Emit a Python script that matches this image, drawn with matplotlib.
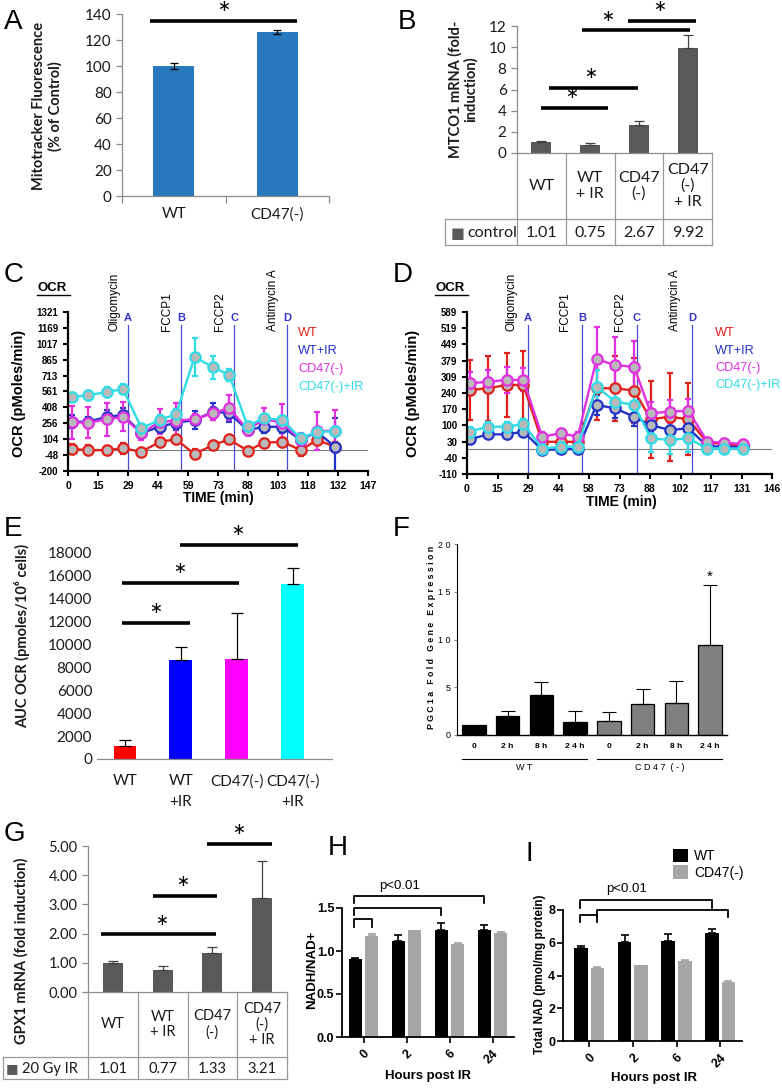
import numpy as np
import matplotlib
matplotlib.use("Agg")
import matplotlib.pyplot as plt
from matplotlib.transforms import blended_transform_factory

W, H = 782, 1088
plt.rcParams['font.family'] = ['Liberation Sans', 'DejaVu Sans']
XL = ['Lato', 'DejaVu Sans']          # stand-in for Calibri (Excel panels)

# ---------------- data ----------------
# A  Mitotracker
a_groups = ['WT', 'CD47(-)']
a_mean = [100, 126.5]
a_err = [2.2, 1.5]
a_sig = [(-0.23, 1.19, 135, 0.48)]          # x1, x2, y, star x

# B  MTCO1 mRNA
b_groups = ['WT', 'WT\n+ IR', 'CD47\n(-)', 'CD47\n(-)\n+ IR']
b_mean = [1.01, 0.75, 2.67, 9.92]
b_err = [0.15, 0.22, 0.38, 1.25]
b_sig = [(0.0, 1.37, 4.25, 0.63), (0.16, 1.98, 6.15, 1.02),
         (0.84, 3.04, 11.6, 1.35), (1.78, 3.18, 12.5, 2.43)]

# C / D  Seahorse OCR traces
ocr_labels = ['WT', 'WT+IR', 'CD47(-)', 'CD47(-)+IR']
ocr_colors = ['#e0221c', '#2233c8', '#e030e0', '#30dce6']
drugs = ['Oligomycin', 'FCCP1', 'FCCP2', 'Antimycin A']
ports = ['A', 'B', 'C', 'D']

c_time = [2, 10, 19, 27, 36, 45, 53, 62, 71, 79, 88, 96, 105, 114, 122, 131]
c_inject = [29.4, 55.4, 81.4, 107.4]
c_yticks = [-200, -48, 104, 256, 408, 561, 713, 865, 1017, 1169, 1321]
c_xticks = [0, 15, 29, 44, 59, 73, 88, 103, 118, 132, 147]
c_wt = [10, 0, 0, 16, -16, 80, 102, -38, 48, 102, -6, 70, 80, 0, 96, 32]
c_wt_err = [50, 45, 35, 50, 40, 35, 40, 50, 35, 40, 35, 35, 40, 55, 50, 45]
c_wtir = [271, 271, 319, 335, 163, 223, 262, 287, 367, 354, 191, 223, 223, 96, 175, 29]
c_wtir_err = [60, 50, 60, 70, 40, 60, 70, 90, 80, 90, 50, 60, 60, 50, 40, 280]
c_cd = [265, 262, 294, 319, 160, 271, 281, 297, 351, 405, 191, 297, 262, 96, 182, 185]
c_cd_err = [160, 150, 155, 140, 60, 120, 170, 50, 60, 120, 50, 110, 180, 70, 180, 200]
c_cdir = [507, 526, 555, 584, 210, 287, 345, 890, 794, 718, 230, 306, 287, 115, 172, 182]
c_cdir_err = [40, 40, 45, 45, 40, 50, 50, 180, 110, 60, 40, 40, 40, 40, 40, 40]

d_time = [1.5, 10, 19, 27, 36, 45, 53, 62, 71, 80, 88, 97, 106, 115, 123, 132]
d_inject = [29.2, 55.0, 81.3, 107.7]
d_yticks = [-110, -40, 30, 100, 170, 240, 309, 379, 449, 519, 589]
d_xticks = [0, 15, 29, 44, 58, 73, 88, 102, 117, 131, 146]
d_wt = [252, 260, 274, 274, 29, 29, 29, 260, 260, 250, 126, 137, 126, 25, 20, 10]
d_wt_err = [130, 140, 140, 145, 10, 10, 10, 135, 140, 140, 165, 190, 155, 15, 15, 15]
d_wtir = [40, 61, 61, 73, -7, -3, -3, 188, 173, 137, 101, 80, 87, 10, 8, 5]
d_wtir_err = [15, 15, 15, 15, 10, 10, 10, 45, 40, 40, 30, 30, 30, 15, 15, 25]
d_cd = [281, 288, 296, 296, 51, 66, 51, 385, 360, 352, 152, 159, 163, 30, 25, 20]
d_cd_err = [50, 50, 55, 50, 20, 20, 20, 140, 120, 110, 50, 50, 50, 15, 15, 15]
d_cdir = [73, 94, 94, 106, 0, 8, 8, 267, 202, 188, 44, 37, 44, 0, 0, 0]
d_cdir_err = [20, 20, 20, 20, 10, 10, 10, 72, 40, 40, 60, 60, 60, 15, 15, 15]

# E  AUC OCR
e_groups = ['WT', 'WT\n+IR', 'CD47(-)', 'CD47(-)\n+IR']
e_mean = [1100, 8650, 8700, 15250]
e_err = [580, 1120, 4080, 1420]
e_colors = ['#ff0000', '#0000ff', '#ff00ff', '#00ffff']
e_sig = [(-0.06, 1.17, 11900, 0.54), (-0.06, 2.04, 15400, 0.98), (0.99, 3.1, 18700, 2.02)]

# F  PGC1a
f_ticks = ['0', '2 h', '8 h', '2 4 h'] * 2
f_groups = ['W T', 'C D 4 7  ( - )']
f_mean = [1.0, 2.0, 4.2, 1.4, 1.45, 3.2, 3.3, 9.4]
f_err = [0, 0.5, 1.3, 1.1, 0.95, 1.6, 2.4, 6.3]
f_colors = ['black', '#808080']

# G  GPX1 mRNA
g_groups = ['WT', 'WT\n+ IR', 'CD47\n(-)', 'CD47\n(-)\n+ IR']
g_mean = [1.01, 0.77, 1.33, 3.21]
g_err = [0.06, 0.13, 0.22, 1.27]
g_sig = [(-0.24, 2.08, 1.98, 0.98), (0.8, 2.1, 3.29, 1.4), (1.9, 3.2, 5.07, 2.52)]

# H / I  NAD
hours = ['0', '2', '6', '24']
nad_labels = ['WT', 'CD47(-)']
nad_colors = ['black', '#a6a6a6']
h_wt = [0.905, 1.115, 1.24, 1.245]
h_wt_err = [0.01, 0.075, 0.085, 0.06]
h_cd = [1.18, 1.245, 1.085, 1.215]
h_cd_err = [0.02, 0, 0.005, 0.005]
i_wt = [5.7, 6.03, 6.12, 6.57]
i_wt_err = [0.1, 0.42, 0.4, 0.3]
i_cd = [4.45, 4.63, 4.9, 3.62]
i_cd_err = [0.07, 0, 0.03, 0.03]

fig = plt.figure(figsize=(W / 100, H / 100), dpi=100)


def add_ax(x0, y0, x1, y1):
    return fig.add_axes([x0 / W, 1 - y1 / H, (x1 - x0) / W, (y1 - y0) / H])


def fy(y):
    return 1 - y / H


def ftext(x, y, s, **kw):
    return fig.text(x / W, fy(y), s, **kw)


def excel_style(ax, left=True):
    for s in ('top', 'right'):
        ax.spines[s].set_visible(False)
    for s in ('left', 'bottom'):
        ax.spines[s].set_color('#8c8c8c')
        ax.spines[s].set_linewidth(0.9)
    ax.spines['left'].set_visible(left)
    ax.tick_params(colors='#8c8c8c', labelcolor='#1a1a1a', length=4, width=0.9)


def stars(ax, bars, dy=4):
    for x1, x2, y, xs in bars:
        ax.plot([x1, x2], [y, y], color='black', lw=2.6, clip_on=False, solid_capstyle='butt')
        ax.annotate('*', (xs, y), xytext=(0, dy), textcoords='offset points',
                    ha='center', va='center', fontsize=22, family=XL, annotation_clip=False)


def excel_table(ax, cols, row_label, vals, lab_left, y_top, y_mid, y_bot, fs, sq_dx, txt_dx):
    # data table drawn under an Excel bar chart; x in data units, y in figure pixels
    tr = blended_transform_factory(ax.transData, fig.transFigure)
    edges = np.arange(len(cols) + 1) - 0.5
    kw = dict(color='#9a9a9a', lw=0.9, transform=tr, clip_on=False)
    for e in edges:
        ax.plot([e, e], [fy(y_top), fy(y_bot)], **kw)
    ax.plot([lab_left, lab_left], [fy(y_mid), fy(y_bot)], **kw)
    ax.plot([lab_left, edges[-1]], [fy(y_mid)] * 2, **kw)
    ax.plot([lab_left, edges[-1]], [fy(y_bot)] * 2, **kw)
    tk = dict(transform=tr, ha='center', va='center', fontsize=fs, family=XL, color='#1a1a1a')
    for i, (c, v) in enumerate(zip(cols, vals)):
        ax.text(i, fy((y_top + y_mid) / 2), c, linespacing=1.15, **tk)
        ax.text(i, fy((y_mid + y_bot) / 2 + 1), f'{v:.2f}', **tk)
    ym = fy((y_mid + y_bot) / 2 + 1)
    ax.annotate('\u25a0', (lab_left, ym), xycoords=tr, xytext=(sq_dx, 0), textcoords='offset points',
                ha='left', va='center', fontsize=fs - 1, color='#595959', family=['DejaVu Sans'])
    ax.annotate(row_label, (lab_left, ym), xycoords=tr, xytext=(txt_dx, 0), textcoords='offset points',
                ha='left', va='center', fontsize=fs, color='#1a1a1a', family=XL)


# ---------------- A ----------------
axA = add_ax(122, 14, 329, 196)
xa = np.arange(len(a_groups))
axA.bar(xa, a_mean, width=0.4, color='#2878bd', yerr=a_err, capsize=3,
        error_kw=dict(elinewidth=0.9, capthick=0.9, ecolor='black'))
axA.set_xlim(-0.5, len(a_groups) - 0.5)
axA.set_ylim(0, 140)
excel_style(axA)
axA.set_yticks(range(0, 141, 20), [str(v) for v in range(0, 141, 20)], fontsize=11, family=XL)
axA.set_xticks(np.arange(-0.5, len(a_groups), 1))
axA.tick_params(axis='x', which='major', labelbottom=False, length=5)
axA.set_xticks(xa, a_groups, minor=True, fontsize=11, family=XL)
axA.tick_params(axis='x', which='minor', length=0, pad=8, labelcolor='#1a1a1a')
stars(axA, a_sig)
ftext(47, 106, 'Mitotracker Fluorescence\n(% of Control)', rotation=90, ha='center', va='center',
      fontsize=10.5, fontweight='bold', family=XL, color='#1a1a1a', linespacing=1.15)
ftext(4, 9, 'A', fontsize=20, va='top')

# ---------------- B ----------------
axB = add_ax(517, 26, 712, 153)
xb = np.arange(len(b_groups))
axB.bar(xb, b_mean, width=0.41, color='#595959', yerr=[np.zeros(len(b_err)), b_err], capsize=3.5,
        error_kw=dict(elinewidth=0.9, capthick=0.9, ecolor='#404040'))
axB.set_xlim(-0.5, len(b_groups) - 0.5)
axB.set_ylim(0, 12)
excel_style(axB)
axB.set_xticks([])
axB.set_yticks(range(0, 13, 2), [str(v) for v in range(0, 13, 2)], fontsize=11, family=XL)
excel_table(axB, b_groups, 'control', b_mean, -1.977, 153, 219, 245, 11.5, 4, 16)
stars(axB, b_sig)
ftext(463, 89, 'MTCO1 mRNA (fold-\ninduction)', rotation=90, ha='center', va='center',
      fontsize=10.5, fontweight='bold', family=XL, color='#1a1a1a', linespacing=1.15)
ftext(398, 9, 'B', fontsize=20, va='top')


# ---------------- C / D ----------------
def seahorse(ax, t, series, inject, yticks, xticks, xmax, name_off):
    for (vals, errs), col, lab in zip(series, ocr_colors, ocr_labels):
        ax.errorbar(t, vals, yerr=errs, color=col, lw=1.7, marker='o', ms=7.5, mfc='#b9b9b9',
                    mec=col, mew=1.6, capsize=2.5, elinewidth=1.6, capthick=1.6, label=lab)
    ax.axhline(0, color='#7a7a7a', lw=0.8, zorder=0)
    ax.set_ylim(yticks[0], yticks[-1])
    ax.set_xlim(0, xmax)
    trans = ax.get_xaxis_transform()
    for x, drug, port in zip(inject, drugs, ports):
        ax.plot([x, x], [0, 0.92], color='#4a4ad0', lw=0.9, transform=trans, zorder=0, clip_on=False)
        ax.text(x, 0.962, port, transform=trans, color='#3434cc', fontweight='bold', fontsize=8,
                ha='center', va='center')
        ax.annotate(drug, (x, 0.88), xycoords=trans, xytext=(-name_off, 0), textcoords='offset points',
                    rotation=90, ha='center', va='bottom', fontsize=8.5)
    for s in ('top', 'right'):
        ax.spines[s].set_visible(False)
    for s in ('left', 'bottom'):
        ax.spines[s].set_linewidth(1.6)
    ax.tick_params(length=3.5, width=1.5)
    ax.set_yticks(yticks, [str(v) for v in yticks], fontsize=7, fontweight='bold')
    ax.set_xticks(np.linspace(0, xmax, len(xticks)), [str(v) for v in xticks], fontsize=7.5,
                  fontweight='bold')


axC = add_ax(68, 312, 368, 471)
seahorse(axC, c_time, [(c_wt, c_wt_err), (c_wtir, c_wtir_err), (c_cd, c_cd_err), (c_cdir, c_cdir_err)],
         c_inject, c_yticks, c_xticks, 147, 10)
axD = add_ax(467, 312, 772, 474)
seahorse(axD, d_time, [(d_wt, d_wt_err), (d_wtir, d_wtir_err), (d_cd, d_cd_err), (d_cdir, d_cdir_err)],
         d_inject, d_yticks, d_xticks, 146, 12)

for x0, ylab_x, xl_x, xl_y, leg_x, leg_dy in [(37, 19, 218, 498, 298, 18), (435, 413, 621, 502, 715, 17.5)]:
    ftext(x0, 288, 'OCR', fontsize=9.5, fontweight='bold', va='center')
    fig.add_artist(plt.Line2D([x0 / W, (x0 + 33) / W], [fy(295)] * 2, color='black', lw=1))
    ftext(ylab_x, 393, 'OCR (pMoles/min)', rotation=90, ha='center', va='center', fontsize=10.5,
          fontweight='bold')
    ftext(xl_x, xl_y, 'TIME (min)', ha='center', va='center', fontsize=10, fontweight='bold')
    for i, (lab, col) in enumerate(zip(ocr_labels, ocr_colors)):
        ftext(leg_x, 333 + i * leg_dy, lab, color=col, fontsize=9.2, va='center')
ftext(4, 262, 'C', fontsize=20, va='top')
ftext(393, 262, 'D', fontsize=20, va='top')

# ---------------- E ----------------
axE = add_ax(97, 553, 332, 759)
xe = np.arange(len(e_groups))
axE.bar(xe, e_mean, width=0.41, color=e_colors, yerr=[np.zeros(len(e_err)), e_err], capsize=4,
        error_kw=dict(elinewidth=0.9, capthick=0.9, ecolor='black'))
axE.set_xlim(-0.5, 3.7)
axE.set_ylim(0, 18000)
excel_style(axE, left=False)
axE.tick_params(length=0)
axE.set_yticks(range(0, 18001, 2000), [str(v) for v in range(0, 18001, 2000)], fontsize=11, family=XL)
axE.set_xticks(xe, e_groups, fontsize=11, family=XL, linespacing=1.6)
axE.tick_params(axis='x', pad=11)
stars(axE, e_sig)
ftext(22, 636, 'AUC OCR (pmoles/10\u2076 cells)', rotation=90, ha='center', va='center',
      fontsize=10.5, fontweight='bold', family=XL, color='#1a1a1a')
ftext(4, 516, 'E', fontsize=20, va='top')

# ---------------- F ----------------
axF = add_ax(457, 544, 727, 735)
xf = np.arange(len(f_mean))
n_per = len(f_mean) // len(f_groups)
fcol = [f_colors[i // n_per] for i in xf]
axF.bar(xf, f_mean, width=0.7, color=fcol, edgecolor='black', linewidth=0.9)
for x, m, e in zip(xf, f_mean, f_err):
    if e > 0:
        axF.errorbar(x, m, yerr=[[0], [e]], color='black', lw=0.8, capsize=5, capthick=0.8)
axF.set_xlim(-0.5, len(f_mean) - 0.5)
axF.set_ylim(0, 20)
for s in ('top', 'right'):
    axF.spines[s].set_visible(False)
axF.spines['left'].set_linewidth(0.8)
axF.spines['bottom'].set_linewidth(1.0)
axF.tick_params(axis='y', length=2.5, width=0.6, color='#707070', labelsize=6.5, pad=2)
axF.set_yticks(range(0, 21, 5), [' '.join(str(v)) for v in range(0, 21, 5)])
axF.set_xticks(xf, f_ticks, fontsize=6, fontweight='bold')
axF.tick_params(axis='x', length=0, pad=6)
trF = axF.get_xaxis_transform()
for g, lab in enumerate(f_groups):
    lo, hi = g * n_per - 0.35, g * n_per + n_per - 1 + 0.35
    axF.plot([lo, hi], [-0.125, -0.125], color='black', lw=0.8, transform=trF, clip_on=False)
    axF.text((lo + hi) / 2, -0.172, lab, transform=trF, ha='center', va='center', fontsize=6.5)
axF.annotate('*', (xf[-1], f_mean[-1] + f_err[-1]), xytext=(0, 1), textcoords='offset points',
             ha='center', va='bottom', fontsize=11)
ftext(432, 637, ' '.join('PGC1a Fold Gene Expression'), rotation=90, ha='center', va='center',
      fontsize=6.3, fontweight='bold')
ftext(393, 516, 'F', fontsize=20, va='top')

# ---------------- G ----------------
axG = add_ax(88, 846, 287, 992)
xg = np.arange(len(g_groups))
axG.bar(xg, g_mean, width=0.4, color='#595959', yerr=[np.zeros(len(g_err)), g_err], capsize=3.5,
        error_kw=dict(elinewidth=0.9, capthick=0.9, ecolor='#404040'))
axG.set_xlim(-0.5, len(g_groups) - 0.5)
axG.set_ylim(0, 5)
excel_style(axG)
axG.set_xticks([])
axG.set_yticks(range(0, 6), [f'{v:.2f}' for v in range(0, 6)], fontsize=10.5, family=XL)
excel_table(axG, g_groups, '20 Gy IR', g_mean, -2.21, 992, 1057, 1079, 10.5, 2, 14)
stars(axG, g_sig)
ftext(21, 951, 'GPX1 mRNA (fold induction)', rotation=90, ha='center', va='center',
      fontsize=10.5, fontweight='bold', family=XL, color='#1a1a1a')
ftext(4, 821, 'G', fontsize=20, va='top')


# ---------------- H / I ----------------
def nad_panel(ax, wt, wt_err, cd, cd_err, ymax, yticks, fmt, xlo):
    xh = np.arange(len(hours))
    for off, vals, errs, col, lab in [(-0.19, wt, wt_err, nad_colors[0], nad_labels[0]),
                                      (0.19, cd, cd_err, nad_colors[1], nad_labels[1])]:
        ax.bar(xh + off, vals, width=0.31, color=col, label=lab)
        for x, m, e in zip(xh + off, vals, errs):
            if e > 0:
                ax.errorbar(x, m, yerr=[[0], [e]], color=col, lw=1.2, capsize=3, capthick=1.2)
    ax.set_xlim(xlo, len(hours) - 0.5)
    ax.set_ylim(0, ymax)
    for s in ('top', 'right'):
        ax.spines[s].set_visible(False)
    for s in ('left', 'bottom'):
        ax.spines[s].set_linewidth(1.3)
    ax.tick_params(length=4, width=1.2)
    ax.tick_params(axis='y', pad=1.5)
    ax.set_yticks(yticks, [fmt.format(v) for v in yticks], fontsize=9, fontweight='bold')
    ax.set_xticks(xh, hours, fontsize=9, fontweight='bold', rotation=45, ha='right',
                  rotation_mode='anchor')


def bracket(ax, x1, x2, y, drop):
    ax.plot([x1, x1, x2, x2], [y - drop, y, y, y - drop], color='black', lw=1.3, clip_on=False)


axH = add_ax(342, 908, 514, 1037)
nad_panel(axH, h_wt, h_wt_err, h_cd, h_cd_err, 1.5, [0, 0.5, 1.0, 1.5], '{:.1f}', -0.5)
bracket(axH, -0.21, 0.19, 1.37, 0.09)
bracket(axH, -0.21, 1.81, 1.505, 0.09)
bracket(axH, -0.21, 2.81, 1.645, 0.09)
ftext(400, 886, 'p<0.01', ha='center', va='center', fontsize=9.5)
ftext(312, 970, 'NADH/NAD+', rotation=90, ha='center', va='center', fontsize=9.5, fontweight='bold')
ftext(428, 1076, 'Hours post IR', ha='center', va='center', fontsize=9.5, fontweight='bold')
ftext(328, 835, 'H', fontsize=20, va='top')

axI = add_ax(563, 910, 742, 1041)
nad_panel(axI, i_wt, i_wt_err, i_cd, i_cd_err, 8, [0, 2, 4, 6, 8], '{:d}', -0.6)
bracket(axI, -0.21, 0.19, 7.7, 0.45)
bracket(axI, -0.21, 2.81, 8.6, 0.45)
bracket(axI, 0.19, 3.19, 8.03, 0.45)
ftext(627, 889, 'p<0.01', ha='center', va='center', fontsize=9.5)
ftext(540, 974, 'Total NAD (pmol/mg protein)', rotation=90, ha='center', va='center', fontsize=8.5,
      fontweight='bold')
ftext(654, 1078, 'Hours post IR', ha='center', va='center', fontsize=9.5, fontweight='bold')
axI.legend(loc='upper left', bbox_to_anchor=(673 / W, fy(849)), bbox_transform=fig.transFigure,
           frameon=False, fontsize=10, handlelength=1.1, handleheight=1.1, handletextpad=0.4,
           labelspacing=0.15, borderpad=0, borderaxespad=0)
ftext(526, 841, 'I', fontsize=20, va='top')

fig.savefig('out.png', dpi=100)
